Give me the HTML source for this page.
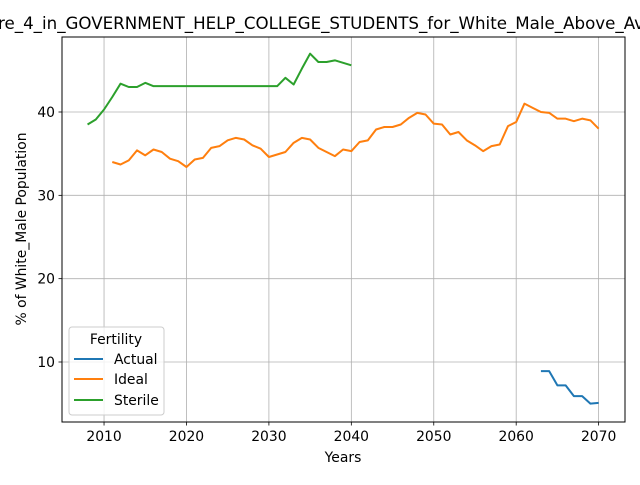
<!DOCTYPE html>
<html><head><meta charset="utf-8"><style>
body{margin:0;background:#fff}
svg{font-family:"DejaVu Sans","Liberation Sans",sans-serif}
</style></head><body>
<svg id="chart" width="640" height="480" viewBox="0 0 640 480">
<rect width="640" height="480" fill="#fff"/>
<text x="-2" y="29" font-size="16.7" textLength="646" lengthAdjust="spacingAndGlyphs">re_4_in_GOVERNMENT_HELP_COLLEGE_STUDENTS_for_White_Male_Above_Av</text>
<g id="grid"></g>
<g id="series"></g>
<rect x="62" y="37" width="563" height="385" fill="none" stroke="#000" stroke-width="1"/>
<g id="axes"></g>
<text x="343" y="462" font-size="13.9" text-anchor="middle">Years</text>
<text transform="translate(26,229) rotate(-90)" font-size="13.9" text-anchor="middle">% of White_Male Population</text>
<g>
<rect x="69" y="327" width="95" height="88" rx="3" fill="#fff" fill-opacity="0.8" stroke="#ccc"/>
<text x="116" y="344" font-size="13.9" text-anchor="middle">Fertility</text>
<g><line x1="74" y1="359" x2="103" y2="359" stroke="#1f77b4" stroke-width="2"/><text x="114" y="364" font-size="13.9">Actual</text></g>
<g><line x1="74" y1="379" x2="103" y2="379" stroke="#ff7f0e" stroke-width="2"/><text x="114" y="384" font-size="13.9">Ideal</text></g>
<g><line x1="74" y1="400" x2="103" y2="400" stroke="#2ca02c" stroke-width="2"/><text x="114" y="405" font-size="13.9">Sterile</text></g>
</g>
</svg>
<script>
const xTicks=[2010,2020,2030,2040,2050,2060,2070];
const yTicks=[10,20,30,40];
const actualYears=[2063,2064,2065,2066,2067,2068,2069,2070];
const actualVals=[8.9,8.9,7.2,7.2,5.9,5.9,5.0,5.1];
const idealStart=2011;
const idealVals=[34.0,33.7,34.2,35.4,34.8,35.5,35.2,34.4,34.1,33.4,34.3,34.5,35.7,35.9,36.6,36.9,36.7,36.0,35.6,34.6,34.9,35.2,36.3,36.9,36.7,35.7,35.2,34.7,35.5,35.3,36.4,36.6,37.9,38.2,38.2,38.5,39.3,39.9,39.7,38.6,38.5,37.3,37.6,36.6,36.0,35.3,35.9,36.1,38.3,38.8,41.0,40.5,40.0,39.9,39.2,39.2,38.9,39.2,39.0,38.0];
const sterileStart=2008;
const sterileVals=[38.5,39.1,40.3,41.8,43.4,43.0,43.0,43.5,43.1,43.1,43.1,43.1,43.1,43.1,43.1,43.1,43.1,43.1,43.1,43.1,43.1,43.1,43.1,43.1,44.1,43.3,45.2,47.0,46.0,46.0,46.2,45.9,45.6];
const NS="http://www.w3.org/2000/svg";
const X0=62,X1=625,Y0=422,Y1=37,xmin=2004.9,xmax=2073.2,ymin=2.8,ymax=49.0;
const sx=v=>X0+(v-xmin)/(xmax-xmin)*(X1-X0);
const sy=v=>Y0-(v-ymin)/(ymax-ymin)*(Y0-Y1);
function mk(tag,attrs,parent){const e=document.createElementNS(NS,tag);for(const k in attrs)e.setAttribute(k,attrs[k]);parent.appendChild(e);return e;}
const grid=document.getElementById('grid'),axes=document.getElementById('axes'),series=document.getElementById('series');
xTicks.forEach(t=>{const x=sx(t);
const g=mk('line',{x1:x,x2:x,y1:Y1,y2:Y0,stroke:'#b0b0b0','stroke-width':0.8},grid);


mk('line',{x1:x,x2:x,y1:Y0,y2:Y0+3.5,stroke:'#000','stroke-width':0.8},axes);
const tx=mk('text',{x:x,y:Y0+19,'font-size':13.9,'text-anchor':'middle'},axes);tx.textContent=t;

});
yTicks.forEach(t=>{const y=sy(t);
const g=mk('line',{x1:X0,x2:X1,y1:y,y2:y,stroke:'#b0b0b0','stroke-width':0.8},grid);


mk('line',{x1:X0-3.5,x2:X0,y1:y,y2:y,stroke:'#000','stroke-width':0.8},axes);
const tx=mk('text',{x:X0-7,y:y+5,'font-size':13.9,'text-anchor':'end'},axes);tx.textContent=t;

});
function line(xs,ys,color,name){const p=mk('polyline',{points:xs.map((x,i)=>sx(x)+','+sy(ys[i])).join(' '),fill:'none',stroke:color,'stroke-width':2,'stroke-linejoin':'round'},series);

}
line(actualYears,actualVals,'#1f77b4','actual-line');
line(idealVals.map((_,i)=>idealStart+i),idealVals,'#ff7f0e','ideal-line');
line(sterileVals.map((_,i)=>sterileStart+i),sterileVals,'#2ca02c','sterile-line');
</script>
</body></html>
